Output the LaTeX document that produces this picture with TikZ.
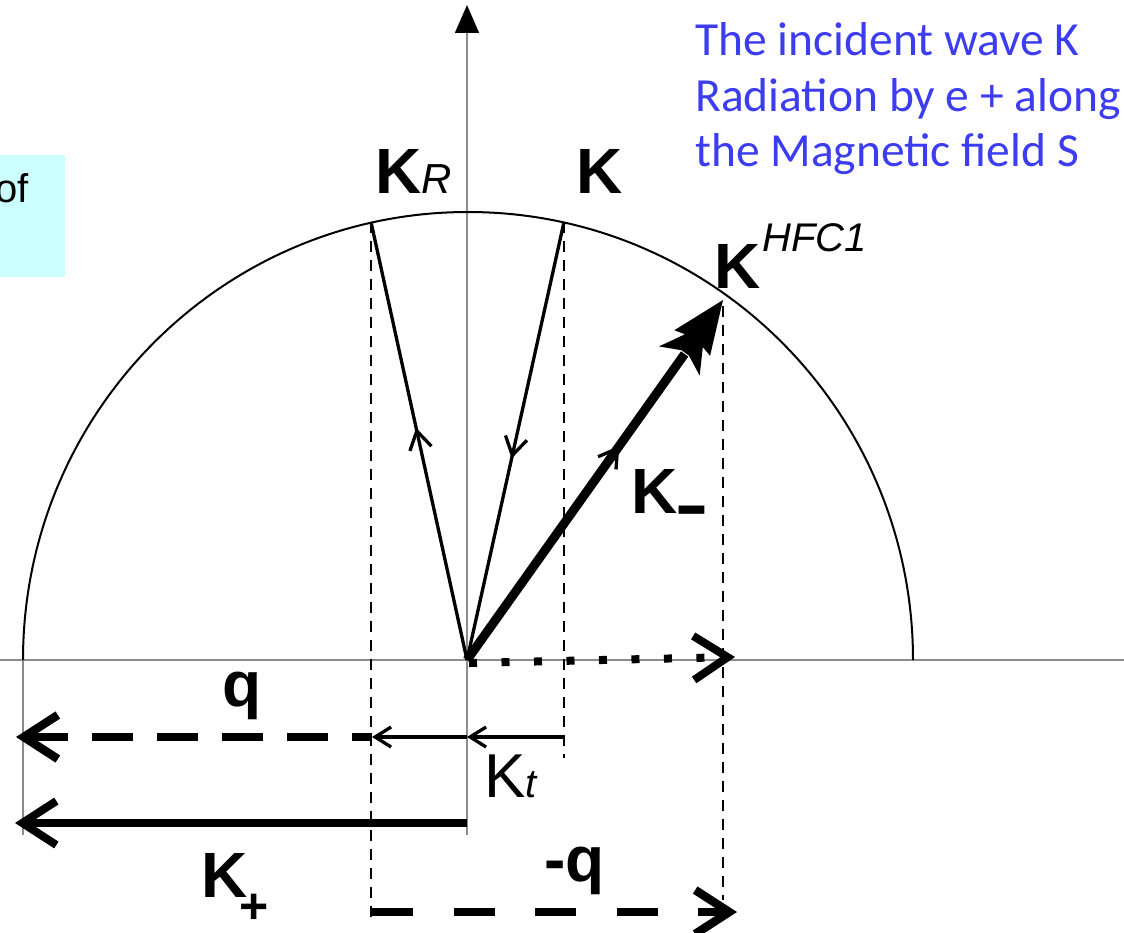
\documentclass[tikz,border=0pt]{standalone}
\usepackage{fontspec}
\setmainfont{Liberation Sans}
\newfontfamily\bluefont{Carlito}
\usetikzlibrary{arrows.meta,decorations.markings,calc}
\definecolor{axisgray}{RGB}{140,140,140}
\definecolor{txtblue}{RGB}{60,60,240}
\definecolor{boxcyan}{RGB}{204,255,255}
\begin{document}
\begin{tikzpicture}[x=1pt,y=-1pt,
  axisline/.style={draw=axisgray,line width=1.5pt},
  guide/.style={line width=2.5pt,dash pattern=on 11pt off 8pt},
  vec/.style={line width=3.3pt},
  fatvec/.style={line width=9pt},
  chev/.style={-{Straight Barb[length=34pt,width=44pt]}},
  smallbarb/.style={-{Straight Barb[length=16pt,width=20pt]}},
  midbarb/.style={postaction=decorate,decoration={markings,
     mark=at position #1 with {\arrow{Straight Barb[length=18pt,width=22pt,line width=3.3pt]}}}},
  lab/.style={inner sep=0pt,font=\fontsize{64}{64}\selectfont\bfseries},
  reglab/.style={inner sep=0pt,font=\fontsize{62}{62}\selectfont},
  bluetxt/.style={inner sep=0pt,anchor=base west,text=txtblue,font=\bluefont\fontsize{47.5}{56}\selectfont}
]
\useasboundingbox (0,0) rectangle (1124,933);

% cyan box
\fill[boxcyan] (0,155) rectangle (65,277);
\node[inner sep=0pt,anchor=base east,font=\fontsize{40}{40}\selectfont] (of) at (29,203) {of};

% key points
\coordinate (O) at (467,660);
\coordinate (KRtop) at (371,222);
\coordinate (Ktop) at (564,222);
\coordinate (Hf) at (723,300);
\coordinate (ytop) at (467,5);
\coordinate (ybot) at (467,835);
\coordinate (xl) at (0,660);
\coordinate (xr) at (1124,660);
\coordinate (ll) at (23,660);
\coordinate (llb) at (23,835);

% axes
\draw[axisline] (xl) -- (xr);
\draw[axisline,-{Triangle[length=28pt,width=24pt,color=black]}] (ybot) -- (ytop);
\draw[axisline] (ll) -- (llb);

% semicircle
\draw[line width=2pt] (ll) arc[start angle=180,end angle=0,x radius=445pt,y radius=448pt];

% dashed guides
\coordinate (g1) at (371,922);
\coordinate (g2) at (564,758);
\coordinate (g3a) at (723,306);
\coordinate (g3) at (723,900);
\draw[guide] (KRtop) -- (g1);
\draw[guide] (Ktop) -- (g2);
\draw[guide] (g3a) -- (g3);

% vectors K_R and K
\draw[vec,midbarb=0.53] (O) -- (KRtop);
\draw[vec,midbarb=0.54] (Ktop) -- (O);

% K_- thick vector with fancy head
\coordinate (Ksh) at ($(O)!0.85!(Hf)$);
\draw[fatvec,midbarb=0.70] (O) -- (Ksh);
\fill[black,shift={(Hf)},rotate=54.4] (0,0) -- (-53,-22) -- (-50,-11) -- (-75,-25) -- (-65,-4.5)
   -- (-65,4.5) -- (-75,25) -- (-50,11) -- (-53,22) -- cycle;

% dotted arrow along x
\coordinate (dS) at (469,663);
\coordinate (dE) at (735,657);
\draw[line width=8pt,dash pattern=on 8pt off 24.5pt,chev] (dS) -- (dE);

% q dashed arrow
\coordinate (qS) at (372,737);
\coordinate (qE) at (16,737);
\draw[line width=8.5pt,dash pattern=on 20pt off 24pt on 41pt off 24pt on 41pt off 24pt on 41pt off 24pt on 41pt off 24pt on 100pt,chev] (qS) -- (qE);

% K_t thin arrows
\coordinate (tS) at (564,737);
\coordinate (tM) at (467,737);
\draw[vec,smallbarb] (tS) -- (tM);
\draw[vec,smallbarb] (tM) -- (qS);

% K_+ solid arrow
\coordinate (pS) at (467,823);
\coordinate (pE) at (15,823);
\draw[line width=8pt,chev] (pS) -- (pE);

% -q dashed arrow
\coordinate (mS) at (372,912);
\coordinate (mE) at (737,912);
\draw[line width=8.5pt,dash pattern=on 41pt off 40.5pt,chev] (mS) -- (mE);

% labels
\node[lab,anchor=base west] (lKR) at (375,194) {K{\fontsize{42}{42}\selectfont\mdseries\itshape R}};
\node[lab,anchor=base west] (lK) at (576,194) {K};
\node[lab,anchor=base west] (lKH) at (714,288) {K\raisebox{36pt}{\fontsize{40}{40}\selectfont\mdseries\itshape\kern2pt HFC1}};
\node[lab,anchor=base west] (lKm) at (631,513) {K\raisebox{-19pt}{\fontsize{52}{52}\selectfont\scalebox{1}[1.6]{–}}};
\node[lab,anchor=base west] (lq) at (222,706) {q};
\node[reglab,anchor=base west] (lKt) at (484,797) {K{\fontsize{40}{40}\selectfont\itshape t}};
\node[lab,anchor=base west] (lKp) at (201,897) {K\kern-8pt\raisebox{-26pt}{\fontsize{50}{50}\selectfont +}};
\node[lab,anchor=base west] (lmq) at (544,881) {-q};

% blue text
\node[bluetxt] (b1) at (695,56) {The incident wave K};
\node[bluetxt] (b2) at (695,112) {Radiation by e + along};
\node[bluetxt] (b3) at (695,167) {the Magnetic field S};
\end{tikzpicture}
\end{document}
